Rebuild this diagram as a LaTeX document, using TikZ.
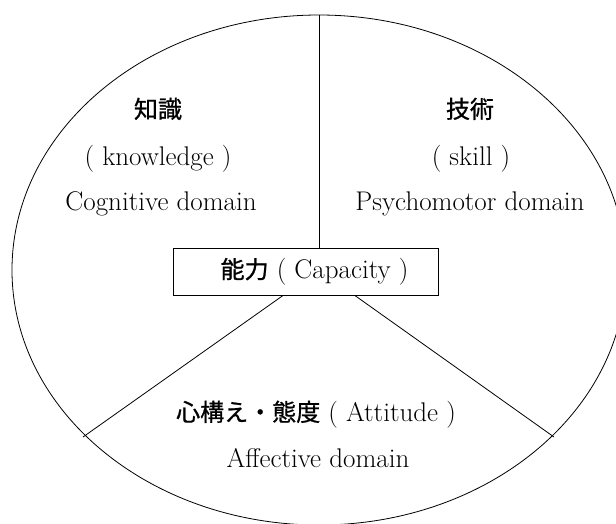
\documentclass[tikz,border=0pt]{standalone}
\usepackage{fontspec}
\newfontfamily\jpb[Scale=0.89,FakeBold=0.9]{Noto Sans CJK JP}
\begin{document}
\begin{tikzpicture}[x=1pt,y=-1pt,
  lbl/.style={font=\fontsize{27}{32}\selectfont, inner sep=0pt, anchor=base},
  capbox/.style={draw, line width=0.8pt, fill=white, minimum width=265pt, minimum height=47pt, inner sep=0pt, font=\fontsize{27}{32}\selectfont},
  edge/.style={line width=0.8pt}]
\useasboundingbox (0,0) rectangle (616,523);
\begin{scope}
\clip (0,0) rectangle (616,523);
\draw[edge] (319,270) ellipse [x radius=307pt, y radius=255pt];
\end{scope}
\coordinate (C) at (319,270);
\coordinate (T) at (319,15);
\coordinate (L) at (83,437);
\coordinate (R) at (554,437);
\draw[edge] (C) -- (L);
\draw[edge] (C) -- (R);
\node[capbox] (box) at (305.5,271.5) {\hspace*{18pt}{\jpb 能力} ( Capacity )};
\draw[edge] (T) -- (T |- box.north);

\node[lbl] (k1) at (158,118) {\jpb 知識};
\node[lbl] (k2) at (158,165) {( knowledge )};
\node[lbl] (k3) at (161,210) {Cognitive domain};
\node[lbl] (s1) at (470,118) {\jpb 技術};
\node[lbl] (s2) at (471,165) {( skill )};
\node[lbl] (s3) at (470,210) {Psychomotor domain};
\node[lbl] (a1) at (316,421) {{\jpb 心構え・態度} ( Attitude )};
\node[lbl] (a2) at (318,467) {Affective domain};
\end{tikzpicture}
\end{document}
